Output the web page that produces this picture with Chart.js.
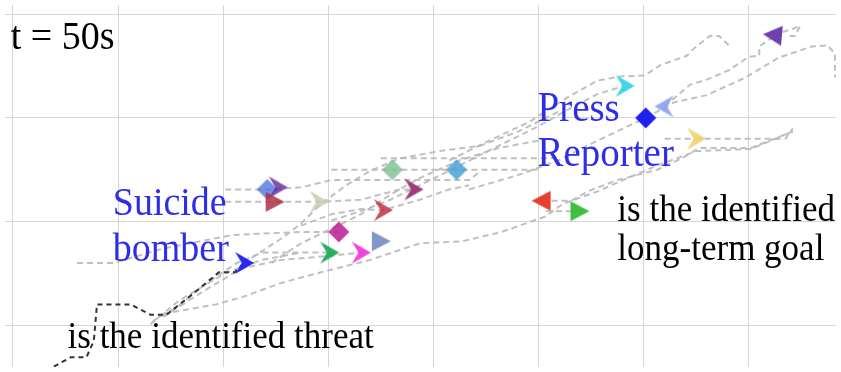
<!DOCTYPE html>
<html>
<head>
<meta charset="utf-8">
<title>t = 50s</title>
<script src="https://cdn.jsdelivr.net/npm/chart.js@4.4.1/dist/chart.umd.min.js"></script>
<style>
  html, body { margin: 0; padding: 0; background: #fff; }
  #wrap { width: 841px; height: 372px; }
</style>
</head>
<body>
<div id="wrap"><canvas id="sim" width="841" height="372"></canvas></div>
<script>
/* agent positions at t = 50s (1 grid cell = 10 m) */
const gridX = [0, 10, 20, 30, 40, 50, 60, 70];
const gridY = [0, 10, 20, 30];

const agentX = [24.2, 25.2, 24.9, 29.1, 36.1, 38.1, 35.2, 42.2, 31.0, 30.1, 33.1, 35.0, 22.0, 58.2, 60.2, 62.0, 65.0, 72.3, 50.3, 53.9];
const agentY = [13.1, 13.3, 11.9, 11.9, 15.0, 13.1, 11.1, 15.0, 9.0, 7.0, 7.0, 8.1, 6.0, 23.1, 20.0, 21.1, 18.0, 28.0, 12.0, 11.0];

/* trail of the threat (black) */
const trailThreat = [[3.9,-4.0],[5.5,-3.1],[7.0,-3.1],[7.7,-1.5],[8.0,2.0],[11.2,2.0],[13.1,1.0],[14.6,1.0],[17.1,3.0],[19.6,5.1],[21.1,5.1],[22.0,6.0]];

/* other agents' trails (gray) */
const trailMagenta = [[6.1,6.0],[9.6,6.0],[14.3,7.4],[20.9,8.7],[27.4,9.0],[31.0,9.0]];
const trailGreen = [[13.3,0.4],[15.7,1.8],[18.5,4.1],[21.3,6.0],[23.7,7.0],[30.1,7.0]];
const trailPink = [[14.3,0.8],[18.0,3.2],[21.8,5.5],[25.6,6.3],[30.3,6.7],[33.1,7.0]];
const trailLong = [[14.3,1.1],[19.3,2.0],[21.8,2.7],[25.6,4.1],[29.3,5.1],[34.0,6.3],[38.7,7.9],[42.8,8.1],[46.5,9.0],[50.7,10.5],[52.3,11.7],[55.6,12.9],[58.5,14.2],[61.3,15.4],[65.0,16.8],[70.2,17.0],[74.2,18.7]];
const trailRed = [[50.3,12.0],[53.1,12.0],[54.9,13.0],[57.5,14.0],[61.3,15.0],[63.8,16.2],[65.3,17.1],[70.2,17.1],[74.2,18.7]];
const trailGoal = [[50.7,11.0],[53.9,11.0]];
const trailYellow = [[62.0,18.0],[65.0,18.0],[73.5,18.0],[74.2,19.0]];
const trailTop = [[41.5,15.9],[45.3,17.8],[49.1,19.6],[52.8,22.0],[55.6,23.6],[57.8,24.0],[60.1,24.1],[61.6,25.1],[64.1,26.0],[65.0,26.9],[66.3,27.9],[67.2,27.9],[68.1,27.0]];
const trailCyan = [[30.3,10.1],[33.1,11.0],[35.9,12.1],[38.7,13.5],[41.5,14.9],[44.4,16.4],[47.2,17.8],[50.0,19.2],[52.8,20.8],[55.6,22.3],[58.2,23.1]];
const trailLightBlue = [[62.0,21.1],[64.4,23.2],[66.0,23.7],[68.1,24.6],[70.0,25.9],[71.0,26.0],[71.0,26.9],[72.3,27.8]];
const trailReporter = [[43.4,13.1],[48.1,14.5],[51.9,15.9],[55.6,17.8],[58.5,19.2],[60.2,20.0]];
const trailEdge = [[60.2,20.0],[62.9,21.5],[66.0,22.2],[69.7,23.9],[72.8,25.8],[76.0,26.9],[77.5,27.0],[78.2,26.2],[78.2,23.9]];
const trailLoop = [[72.3,28.0],[74.2,28.6],[74.9,28.9],[74.4,27.9],[73.5,27.9]];
const trailM1 = [[20.2,13.1],[24.2,13.1],[27.4,13.3],[30.3,14.0],[35.0,14.0],[43.4,14.0],[44.4,14.8]];
const trailM2 = [[20.2,11.9],[24.9,11.9],[29.1,11.9],[33.1,12.1],[36.8,13.1],[38.1,13.1]];
const trailM3 = [[30.3,15.0],[36.1,15.0],[42.2,15.0],[50.0,15.0]];
const trailM3b = [[35.0,16.1],[42.5,16.1],[51.9,16.1]];
const trailM4 = [[27.4,9.6],[30.3,10.7],[33.1,11.2],[35.2,11.1],[38.7,12.1],[41.5,13.1],[43.4,13.5]];
const trailM5 = [[22.7,6.5],[25.6,8.4],[27.4,9.8],[29.3,11.7],[31.7,13.5],[34.0,14.9],[36.8,16.1],[40.6,16.8],[44.4,17.3],[48.1,18.7],[51.9,20.6]];
const trailM6 = [[24.6,6.0],[27.4,7.9],[30.3,9.3],[33.1,10.7],[35.9,12.6],[38.7,14.2],[42.5,15.9],[46.2,17.1],[50.0,17.8]];
const trailL1 = [[13.1,0.1],[15.7,2.3],[18.0,3.7],[20.4,5.1],[23.7,6.3],[27.4,7.0]];

/* marker styles (one per agent) */
const agentShape = ["diamond","chevron","triangle","chevron","diamond","chevron","chevron","diamond","diamond","chevron","chevron","triangle","chevron","chevron","diamond","chevron","chevron","triangle","triangle","triangle"];
const agentAngle = [0,0,0,0,0,0,0,0,0,0,0,0,0,0,0,180,0,185,180,0];
const agentColor = [
  "rgba(70,110,220,0.75)", "rgba(100,40,150,0.8)", "rgba(170,50,70,0.85)", "rgba(200,205,175,0.85)",
  "rgba(130,195,150,0.85)", "rgba(150,40,110,0.9)", "rgba(190,50,60,0.85)", "rgba(70,160,215,0.85)",
  "rgba(190,40,150,0.9)", "rgba(30,170,90,0.95)", "rgba(240,60,220,0.95)", "rgba(110,130,190,0.85)",
  "#2a2af0", "#40d8e8", "#2020f0", "rgba(140,160,240,0.9)",
  "rgba(240,210,110,0.9)", "#7040b0", "#e84030", "#40c040"
];

function makeMarker(shape, color) {
  const c = document.createElement("canvas");
  c.width = 26; c.height = 26;
  const g = c.getContext("2d");
  g.fillStyle = color;
  g.beginPath();
  if (shape === "diamond") {
    g.moveTo(13, 2.5); g.lineTo(23.5, 13); g.lineTo(13, 23.5); g.lineTo(2.5, 13);
  } else if (shape === "triangle") {
    g.moveTo(23, 13); g.lineTo(4, 3); g.lineTo(4, 23);
  } else {
    g.moveTo(23, 13); g.lineTo(4, 2); g.lineTo(10.5, 13); g.lineTo(4, 24);
  }
  g.closePath();
  g.fill();
  return c;
}

const trails = [trailMagenta, trailGreen, trailPink, trailLong, trailRed, trailGoal, trailYellow, trailTop,
  trailCyan, trailLightBlue, trailReporter, trailEdge, trailLoop, trailM1, trailM2, trailM3, trailM3b,
  trailM4, trailM5, trailM6, trailL1];

const pts = t => t.map(p => ({ x: p[0], y: p[1] }));

const datasets = [{
  type: "scatter",
  data: agentX.map((x, i) => ({ x, y: agentY[i] })),
  pointStyle: agentShape.map((s, i) => makeMarker(s, agentColor[i])),
  rotation: agentAngle,
  order: 0,
}, {
  type: "line",
  data: pts(trailThreat),
  borderColor: "#333",
  borderWidth: 2,
  borderDash: [5, 4],
  pointRadius: 0,
  tension: 0,
  order: 1,
}];
trails.forEach(t => datasets.push({
  type: "line",
  data: pts(t),
  borderColor: "rgba(185,185,185,0.9)",
  borderWidth: 2,
  borderDash: [6, 4],
  pointRadius: 0,
  tension: 0,
  order: 2,
}));

const labels = [
  { text: "t = 50s", x: -0.2, y: 26.7, color: "#000", size: 38 },
  { text: "Suicide", x: 9.5, y: 10.6, color: "#2e2ee8", size: 38 },
  { text: "bomber", x: 9.5, y: 6.2, color: "#2e2ee8", size: 38 },
  { text: "Press", x: 49.9, y: 19.7, color: "#2e2ee8", size: 39 },
  { text: "Reporter", x: 49.9, y: 15.4, color: "#2e2ee8", size: 39 },
  { text: "is the identified", x: 57.5, y: 10.1, color: "#000", size: 35 },
  { text: "long-term goal", x: 57.5, y: 6.3, color: "#000", size: 35 },
  { text: "is the identified threat", x: 5.2, y: -2.2, color: "#000", size: 35 },
];

const textPlugin = {
  id: "notes",
  afterDatasetsDraw(chart) {
    const { ctx, scales } = chart;
    labels.forEach(l => {
      ctx.save();
      ctx.textBaseline = "alphabetic";
      ctx.font = l.size + "px 'Liberation Serif', 'Times New Roman', serif";
      ctx.fillStyle = l.color;
      ctx.translate(scales.x.getPixelForValue(l.x), scales.y.getPixelForValue(l.y));
      ctx.scale(1, 1.08);
      ctx.fillText(l.text, 0, 0);
      ctx.restore();
    });
  }
};

const gridColor = "#d6d6d6";
new Chart(document.getElementById("sim"), {
  data: { datasets },
  options: {
    responsive: false,
    animation: false,
    devicePixelRatio: 1,
    layout: { padding: 0 },
    plugins: { legend: { display: false }, tooltip: { enabled: false } },
    scales: {
      x: {
        type: "linear", min: -0.75, max: 78.3,
        afterBuildTicks: s => { s.ticks = gridX.map(v => ({ value: v })); },
        ticks: { display: false },
        grid: { color: gridColor, drawTicks: false, lineWidth: 1 },
        border: { display: false },
      },
      y: {
        type: "linear", min: -4.04, max: 30.9,
        afterBuildTicks: s => { s.ticks = gridY.map(v => ({ value: v })); },
        ticks: { display: false },
        grid: { color: gridColor, drawTicks: false, lineWidth: 1 },
        border: { display: false },
      },
    },
  },
  plugins: [textPlugin],
});
</script>
</body>
</html>
